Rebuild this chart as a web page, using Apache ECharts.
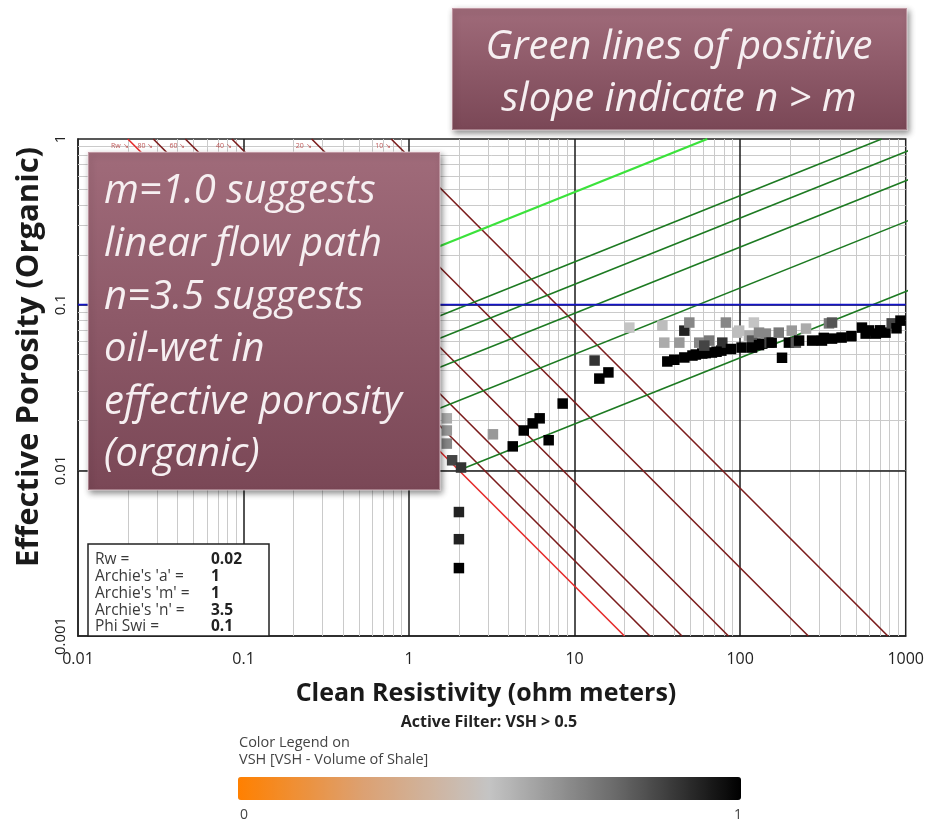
<!DOCTYPE html>
<html>
<head>
<meta charset="utf-8">
<script src="https://cdn.jsdelivr.net/npm/echarts@6/dist/echarts.min.js"></script>
<style>
html,body{margin:0;padding:0;background:#fff;}
#chart{width:927px;height:823px;}
</style>
</head>
<body>
<div id="chart"></div>
<script>
// ---- axis tick labels ----
const xTickLabels = ['0.01', '0.1', '1', '10', '100', '1000'];
const yTickLabels = ['0.001', '0.01', '0.1', '1'];
const xMajor = [0.1, 1, 10, 100];
const yMajor = [0.01, 0.1];

// ---- Archie parameters (info box) ----
const paramLabels = ["Rw =", "Archie's 'a' =", "Archie's 'm' =", "Archie's 'n' =", "Phi Swi ="];
const paramValues = [0.02, 1, 1, 3.5, 0.1];

// ---- red (saturation) lines: resistivity where each meets porosity = 1 ----
const redLineTopRt = [0.02, 0.0285, 0.0445, 0.085, 0.258, 0.78];
const redLineLabels = ['Rw', '80', '60', '40', '20', '10'];

// ---- green (bulk volume water) lines ----
const bvwValues = [0.01, 0.02, 0.03, 0.04, 0.05, 0.1];

// ---- data points: clean resistivity, effective porosity, VSH ----
const ptRt  = [1.69, 1.69, 1.69, 1.82, 2.06, 2.0, 2.0, 2.0, 3.21, 4.23, 4.93, 5.58, 6.15, 6.97, 8.47,
               13.2, 14.1, 16.0, 21.4, 33.9, 34.8, 36.3, 42.9, 46, 49.3, 46, 51.5, 56.6, 59, 65,
               67.5, 77, 78, 82, 96, 102, 113, 118, 118, 121, 136, 143, 150, 155, 171,
               179, 197, 205, 217, 227, 250, 272, 312, 344, 359, 410, 544, 573, 660, 755,
               823, 930, 40, 54, 62, 72, 88, 130, 320, 470, 600, 700, 880, 98.6, 130, 359, 60.7];
const ptPhi = [0.0206, 0.0174, 0.0145, 0.0115, 0.0104, 0.0056, 0.00384, 0.00257, 0.0165, 0.01395, 0.0174, 0.0192, 0.0206, 0.0152, 0.0253,
               0.046, 0.0358, 0.039, 0.0727, 0.0747, 0.059, 0.0454, 0.059, 0.0697, 0.078, 0.048, 0.0493, 0.059, 0.0507, 0.0607,
               0.0514, 0.0528, 0.059, 0.078, 0.0678, 0.0551, 0.065, 0.0607, 0.0551, 0.078, 0.0582, 0.0669, 0.059, 0.059, 0.0678,
               0.0478, 0.059, 0.0697, 0.059, 0.0607, 0.0717, 0.0607, 0.0607, 0.0771, 0.0624, 0.0633, 0.0727, 0.0669, 0.0669, 0.0678,
               0.0771, 0.0801, 0.0465, 0.05, 0.051, 0.052, 0.054, 0.057, 0.063, 0.0645, 0.0699, 0.07, 0.072, 0.0697, 0.0678, 0.078, 0.0566];
const ptVsh = [0.57, 0.62, 0.67, 0.84, 0.88, 0.92, 0.92, 1.0, 0.62, 1.0, 1.0, 1.0, 1.0, 1.0, 1.0,
               0.88, 1.0, 1.0, 0.5, 0.52, 0.57, 1.0, 0.62, 0.92, 0.67, 1.0, 1.0, 0.67, 1.0, 0.71,
               1.0, 1.0, 0.88, 0.67, 0.52, 1.0, 0.57, 0.8, 1.0, 0.5, 1.0, 0.67, 0.84, 1.0, 0.71,
               1.0, 1.0, 0.62, 0.8, 1.0, 0.57, 1.0, 1.0, 0.71, 1.0, 1.0, 1.0, 1.0, 1.0, 1.0,
               0.84, 1.0, 1.0, 1.0, 1.0, 1.0, 1.0, 1.0, 1.0, 1.0, 1.0, 1.0, 1.0, 0.52, 0.67, 0.8, 0.84];

// ---- VSH colour legend stops ----
const vshColors = ['#ff8000', '#dca173', '#c4c4c4', '#6a6a6a', '#000000'];

const FONT = '"Open Sans", "Noto Sans", sans-serif';
const rw = paramValues[0], aA = paramValues[1], mA = paramValues[2], nA = paramValues[3], phiSwi = paramValues[4];

// minor log grid positions
const xMinor = [], yMinor = [];
for (let d = -2; d <= 2; d++) for (let k = 2; k <= 9; k++) xMinor.push(+(k * Math.pow(10, d)).toPrecision(3));
for (let d = -3; d <= -1; d++) for (let k = 2; k <= 9; k++) yMinor.push(+(k * Math.pow(10, d)).toPrecision(3));

const series = [];
// minor grid
series.push({
  type: 'line', data: [], silent: true, z: 1,
  markLine: {
    silent: true, symbol: 'none', label: { show: false }, animation: false, z: 1,
    lineStyle: { color: '#cacaca', width: 1, type: 'solid' },
    data: xMinor.map(v => ({ xAxis: v })).concat(yMinor.map(v => ({ yAxis: v })))
  }
});
// major grid
series.push({
  type: 'line', data: [], silent: true, z: 2,
  markLine: {
    silent: true, symbol: 'none', label: { show: false }, animation: false, z: 2,
    lineStyle: { color: '#1a1a1a', width: 1.5, type: 'solid' },
    data: xMajor.map(v => ({ xAxis: v })).concat(yMajor.map(v => ({ yAxis: v })))
  }
});
// Phi Swi line (blue)
series.push({
  type: 'line', symbol: 'none', z: 7, silent: true,
  lineStyle: { color: '#1414c8', width: 1.6 },
  data: [[0.01, phiSwi], [1000, phiSwi]]
});
// red saturation lines
redLineTopRt.forEach((rt, i) => {
  series.push({
    type: 'line', symbol: 'none', z: 6, silent: true,
    lineStyle: { color: i === 0 ? '#e52a2a' : '#7b1c1c', width: 1.6 },
    data: [[rt, 1], [rt / Math.pow(0.001, mA), 0.001]]
  });
});
// green BVW lines
bvwValues.forEach((b, i) => {
  const light = b >= 0.1;
  const startRt = aA * rw / Math.pow(b, mA);
  const endRt = aA * rw / Math.pow(b, nA);
  series.push({
    type: 'line', symbol: 'none', z: 6, silent: true,
    lineStyle: { color: light ? '#3be23b' : '#1d7a22', width: light ? 2.2 : 1.6 },
    data: [
      { value: [startRt, b], label: { show: true, formatter: String(b), position: 'bottom', distance: 9, color: '#2a9a2a', fontSize: 6, fontFamily: FONT } },
      [endRt, 1]
    ],
    label: { show: false }
  });
});
// scatter data points
const scatterIndex = series.length;
series.push({
  type: 'scatter', symbol: 'rect', symbolSize: 10.5, z: 9,
  itemStyle: { opacity: 1 },
  data: ptRt.map((r, i) => [r, ptPhi[i], ptVsh[i]])
});
// tiny red labels on top of the red lines
series.push({
  type: 'scatter', symbolSize: 0, z: 10, silent: true,
  data: redLineTopRt.map((r, i) => ({ value: [r, 1], name: redLineLabels[i] })),
  label: { show: true, formatter: p => p.name + ' \u2198', position: 'bottom', offset: [-8, -2], color: '#b03030', fontSize: 7, fontFamily: FONT }
});

const boxGrad = { type: 'linear', x: 0, y: 0, x2: 0, y2: 1, colorStops: [{ offset: 0, color: '#a06b7a' }, { offset: 1, color: '#7a4756' }] };
const boxTextColor = '#f6eff1';

function txt(text, x, y, font, fill, align, extra) {
  return Object.assign({
    type: 'text', x: x, y: y, z: 200,
    style: { text: text, font: font, fill: fill, textAlign: align || 'left', textVerticalAlign: 'middle', align: align || 'left', verticalAlign: 'middle' }
  }, extra || {});
}

const graphics = [];
// big text box 1
graphics.push({ type: 'rect', z: 150, shape: { x: 452, y: 8, width: 455, height: 122 },
  style: { fill: boxGrad, stroke: 'rgba(255,235,240,0.35)', lineWidth: 2, shadowBlur: 6, shadowColor: 'rgba(0,0,0,0.45)', shadowOffsetX: 2, shadowOffsetY: 3 } });
graphics.push(txt('Green lines of positive', 679, 48, 'italic 40px ' + FONT, boxTextColor, 'center'));
graphics.push(txt('slope indicate n > m', 679, 100, 'italic 40px ' + FONT, boxTextColor, 'center'));
// big text box 2
graphics.push({ type: 'rect', z: 150, shape: { x: 88, y: 152, width: 352, height: 338 },
  style: { fill: boxGrad, stroke: 'rgba(255,235,240,0.35)', lineWidth: 2, shadowBlur: 6, shadowColor: 'rgba(0,0,0,0.45)', shadowOffsetX: 2, shadowOffsetY: 3 } });
const box2Lines = ['m=1.0 suggests', 'linear flow path', 'n=3.5 suggests', 'oil-wet in', 'effective porosity', '(organic)'];
box2Lines.forEach((t, i) => graphics.push(txt(t, 104, 192 + i * 52.6, 'italic 40px ' + FONT, boxTextColor, 'left')));
// info box
graphics.push({ type: 'rect', z: 150, shape: { x: 88, y: 544, width: 181, height: 92 }, style: { fill: '#fff', stroke: '#222', lineWidth: 1.5 } });
paramLabels.forEach((t, i) => {
  graphics.push(txt(t, 95, 560 + i * 16.7, '15.5px ' + FONT, '#3a3a3a', 'left'));
  graphics.push(txt(String(paramValues[i]), 211, 560 + i * 16.7, 'bold 15.5px ' + FONT, '#222', 'left'));
});
// axis titles
graphics.push(txt('Clean Resistivity (ohm meters)', 486, 694, 'bold 25px ' + FONT, '#1a1a1a', 'center'));
graphics.push(txt('Effective Porosity (Organic)', 29, 357, 'bold 31px ' + FONT, '#1a1a1a', 'center', { rotation: Math.PI / 2 }));
graphics.push(txt('Active Filter: VSH > 0.5', 489, 722, 'bold 16px ' + FONT, '#222', 'center'));
// colour legend texts
graphics.push(txt('Color Legend on', 239, 743, '14.5px ' + FONT, '#444', 'left'));
graphics.push(txt('VSH [VSH - Volume of Shale]', 239, 760, '14.5px ' + FONT, '#444', 'left'));
graphics.push(txt('0', 240, 815, '14px ' + FONT, '#444', 'left'));
graphics.push(txt('1', 738, 815, '14px ' + FONT, '#444', 'center'));

const option = {
  animation: false,
  backgroundColor: '#fff',
  grid: { left: 78, top: 139, right: 20, bottom: 187, show: true, borderColor: '#222', borderWidth: 1.5, backgroundColor: '#fff' },
  xAxis: {
    type: 'log', logBase: 10, min: 0.01, max: 1000,
    axisLine: { show: true, lineStyle: { color: '#222', width: 1.5 } },
    axisTick: { show: false },
    splitLine: { show: false },
    axisLabel: { margin: 15, color: '#222', fontSize: 16, fontFamily: FONT, hideOverlap: false, showMinLabel: true, showMaxLabel: true,
      formatter: v => xTickLabels[Math.round(Math.log10(v)) + 2] }
  },
  yAxis: {
    type: 'log', logBase: 10, min: 0.001, max: 1,
    axisLine: { show: true, lineStyle: { color: '#222', width: 1.5 } },
    axisTick: { show: false },
    splitLine: { show: false },
    axisLabel: { rotate: 90, margin: 10, color: '#222', fontSize: 15, fontFamily: FONT, hideOverlap: false, showMinLabel: true, showMaxLabel: true,
      formatter: v => yTickLabels[Math.round(Math.log10(v)) + 3] }
  },
  visualMap: {
    type: 'continuous', min: 0, max: 1, dimension: 2, seriesIndex: scatterIndex,
    orient: 'horizontal', left: 238, top: 777, itemWidth: 23, itemHeight: 503,
    calculable: false, hoverLink: false, padding: 0, text: ['', ''], showLabel: false,
    inRange: { color: vshColors }
  },
  series: series,
  graphic: graphics
};

const chart = echarts.init(document.getElementById('chart'), null, { renderer: 'canvas' });
chart.setOption(option);
</script>
</body>
</html>
